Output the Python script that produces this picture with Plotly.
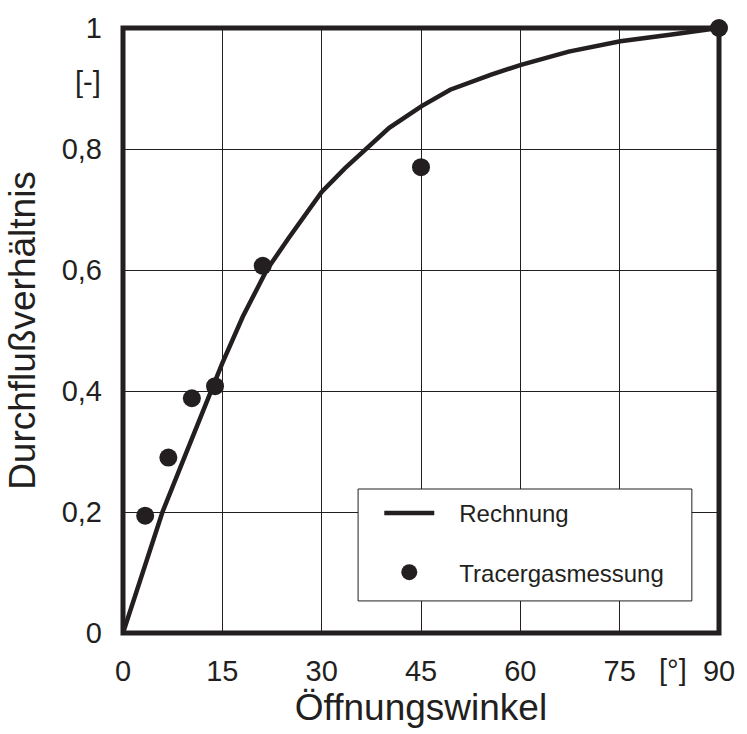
import plotly.graph_objects as go

# Calculated curve ("Rechnung")
calc_x = [0, 5.96, 9.3, 13.2, 15, 18.1, 21.7, 25.1, 30, 33.5, 36.6, 40.2, 45.1, 49.4, 55.6, 60.1, 67.3, 75.1, 82.6, 90]
calc_y = [0, 0.2, 0.291, 0.4, 0.446, 0.523, 0.6, 0.654, 0.729, 0.768, 0.798, 0.835, 0.871, 0.898, 0.923, 0.939, 0.961, 0.978, 0.989, 1.0]

# Measurements ("Tracergasmessung")
meas_x = [3.35, 6.85, 10.4, 13.9, 21.1, 45.0, 90]
meas_y = [0.194, 0.29, 0.388, 0.408, 0.607, 0.770, 1.0]

x_ticks = [0, 15, 30, 45, 60, 75, 90]
x_ticktext = ["0", "15", "30", "45", "60", "75", "90"]
y_ticks = [0, 0.2, 0.4, 0.6, 0.8, 1.0]
y_ticktext = ["0", "0,2", "0,4", "0,6", "0,8", "1"]

INK = "#231f20"
FONT = "Liberation Sans, Arial, sans-serif"
NB = "\u00a0"

fig = go.Figure()
fig.add_trace(go.Scatter(x=calc_x, y=calc_y, mode="lines", name=NB * 3 + "Rechnung",
                         line=dict(color=INK, width=4.5), cliponaxis=False,
                         legendgroup="a"))
fig.add_trace(go.Scatter(x=meas_x, y=meas_y, mode="markers", name=NB * 3 + "Tracergasmessung",
                         marker=dict(color=INK, size=18), cliponaxis=False,
                         legendgroup="b"))

# legend box (opaque, covers the grid)
fig.add_shape(type="rect", xref="x", yref="y", x0=35.5, y0=0.053, x1=85.9, y1=0.238,
              line=dict(color=INK, width=1), fillcolor="white", layer="above")
# plot frame
fig.add_shape(type="rect", xref="x domain", yref="y domain", x0=0, y0=0, x1=1, y1=1,
              line=dict(color=INK, width=5), layer="above")

fig.add_annotation(text="[°]", x=83, xref="x", y=0, yref="paper", yanchor="top",
                   showarrow=False, yshift=-19, font=dict(family=FONT, size=29, color=INK))
fig.add_annotation(text="[-]", x=0, xref="paper", xanchor="right", y=0.91, yref="y",
                   showarrow=False, xshift=-20, font=dict(family=FONT, size=29, color=INK))

fig.update_layout(
    width=747, height=734,
    margin=dict(l=123, r=25, t=28, b=101),
    paper_bgcolor="white", plot_bgcolor="white",
    font=dict(family=FONT, color=INK),
    showlegend=True,
    legend=dict(x=0.43, y=0.235, xanchor="left", yanchor="top", xref="paper", yref="paper",
                bgcolor="rgba(0,0,0,0)", borderwidth=0,
                font=dict(family=FONT, size=24, color=INK),
                tracegroupgap=25, itemwidth=50),
    xaxis=dict(range=[0, 90], tickvals=x_ticks, ticktext=x_ticktext,
               showgrid=True, gridcolor=INK, gridwidth=1, zeroline=False,
               showline=False, ticks="", tickfont=dict(family=FONT, size=29, color=INK),
               ticklabelstandoff=18,
               title=dict(text="Öffnungswinkel", font=dict(family=FONT, size=37, color=INK), standoff=8)),
    yaxis=dict(range=[0, 1], tickvals=y_ticks, ticktext=y_ticktext,
               showgrid=True, gridcolor=INK, gridwidth=1, zeroline=False,
               showline=False, ticks="", tickfont=dict(family=FONT, size=29, color=INK),
               ticklabelstandoff=20,
               title=dict(text="Durchflußverhältnis", font=dict(family=FONT, size=37, color=INK), standoff=14)),
)

fig.write_html("out.html")
